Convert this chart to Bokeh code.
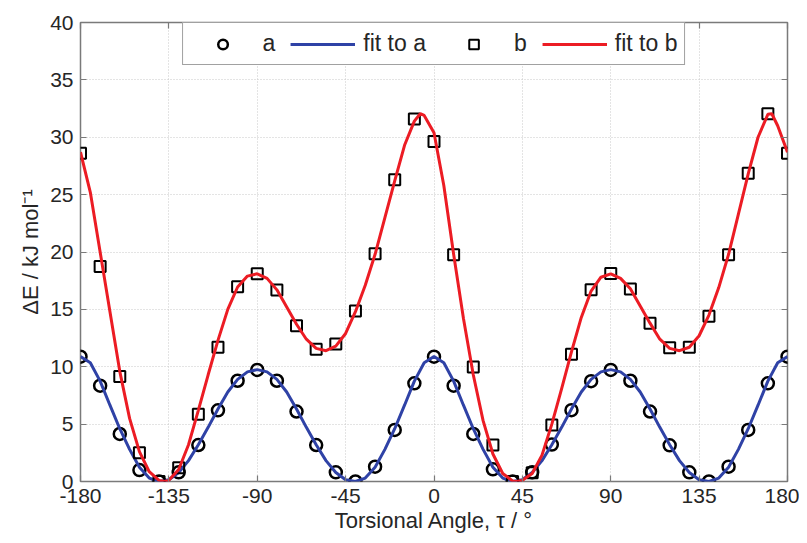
from bokeh.plotting import figure
from bokeh.models import Range1d, FixedTicker, LinearAxis, Legend, LegendItem
from bokeh.embed import file_html
from bokeh.resources import INLINE

# ---- data ----
x_ticks = [-180, -135, -90, -45, 0, 45, 90, 135, 180]
y_ticks = [0, 5, 10, 15, 20, 25, 30, 35, 40]

angles = [-180, -170, -160, -150, -140, -130, -120, -110, -100, -90, -80, -70, -60,
          -50, -40, -30, -20, -10, 0, 10, 20, 30, 40, 50, 60, 70, 80, 90, 100, 110,
          120, 130, 140, 150, 160, 170, 180]

a_vals = [10.88, 8.35, 4.14, 1.0, 0.0, 0.8, 3.18, 6.2, 8.78, 9.72, 8.78, 6.1, 3.18,
          0.8, 0.0, 1.29, 4.49, 8.56, 10.88, 8.35, 4.14, 1.06, 0.0, 0.8, 3.22, 6.22,
          8.74, 9.72, 8.78, 6.1, 3.15, 0.8, 0.0, 1.29, 4.49, 8.56, 10.88]

b_vals = [28.6, 18.73, 9.14, 2.5, 0.0, 1.2, 5.86, 11.7, 16.98, 18.1, 16.68, 13.58,
          11.52, 11.99, 14.86, 19.85, 26.29, 31.58, 29.62, 19.75, 9.98, 3.18, 0.0,
          0.77, 4.93, 11.09, 16.7, 18.12, 16.77, 13.79, 11.65, 11.7, 14.4, 19.75,
          26.87, 32.04, 28.6]

fit_a_x = [-180, -175, -170, -165, -160, -155, -150, -145, -140, -135, -130, -125,
           -120, -115, -110, -105, -100, -95, -90, -85, -80, -75, -70, -65, -60,
           -55, -50, -45, -40, -35, -30, -25, -20, -15, -10, -5, 0, 5, 10, 15, 20,
           25, 30, 35, 40, 45, 50, 55, 60, 65, 70, 75, 80, 85, 90, 95, 100, 105,
           110, 115, 120, 125, 130, 135, 140, 145, 150, 155, 160, 165, 170, 175, 180]
fit_a = [10.9, 10.35, 8.75, 6.65, 4.6, 2.8, 1.25, 0.3, 0.0, 0.15, 0.78, 1.82,
         3.2, 4.72, 6.32, 7.8, 8.9, 9.55, 9.75, 9.55, 8.9, 7.8, 6.32, 4.72, 3.2,
         1.82, 0.78, 0.15, 0.0, 0.3, 1.25, 2.8, 4.6, 6.65, 8.75, 10.35, 10.9, 10.35,
         8.75, 6.65, 4.6, 2.8, 1.25, 0.3, 0.0, 0.15, 0.78, 1.82, 3.2, 4.72, 6.32,
         7.8, 8.9, 9.55, 9.75, 9.55, 8.9, 7.8, 6.32, 4.72, 3.2, 1.82, 0.78, 0.15,
         0.0, 0.3, 1.25, 2.8, 4.6, 6.65, 8.75, 10.35, 10.9]

fit_b_x = [-180, -175, -170, -165, -160, -155, -150, -145, -140, -137, -135, -130,
           -125, -120, -115, -110, -105, -100, -95, -90, -85, -80, -75, -70, -65,
           -60, -55, -50, -45, -40, -35, -30, -25, -20, -15, -10, -7, -5, 0, 5, 10,
           15, 20, 25, 30, 35, 40, 42, 45, 50, 55, 60, 65, 70, 75, 80, 85, 90, 95,
           100, 105, 110, 115, 120, 125, 130, 135, 140, 145, 150, 155, 160, 165,
           170, 172, 175, 180]
fit_b = [28.7, 25.2, 20.0, 14.8, 9.6, 5.5, 2.6, 0.85, 0.1, 0.0, 0.1, 1.05,
         3.2, 6.2, 9.3, 12.3, 15.0, 16.95, 17.9, 18.1, 17.7, 16.7, 15.2, 13.7, 12.4,
         11.6, 11.4, 11.8, 12.9, 14.8, 17.1, 19.8, 23.0, 26.2, 29.3, 31.4, 32.05,
         31.9, 30.4, 25.8, 19.8, 14.2, 9.3, 5.3, 2.4, 0.7, 0.05, 0.0, 0.1, 0.7,
         2.3, 5.0, 8.1, 11.3, 14.3, 16.6, 17.8, 18.1, 17.7, 16.8, 15.3, 13.8, 12.4,
         11.6, 11.4, 11.7, 12.7, 14.5, 16.9, 19.8, 23.3, 26.8, 30.0, 32.0, 32.05,
         31.0, 28.7]

FONT = "Liberation Sans"
TXT = "#262626"
BOX = "#7a7a7a"

p = figure(width=799, height=535,
           x_range=Range1d(-180, 180), y_range=Range1d(0, 40),
           output_backend="svg", toolbar_location=None,
           min_border_left=80, min_border_right=12, min_border_top=22,
           min_border_bottom=53)

p.background_fill_color = "white"
p.border_fill_color = "white"
p.outline_line_color = BOX
p.outline_line_width = 1.5

xt = FixedTicker(ticks=x_ticks)
yt = FixedTicker(ticks=y_ticks)
p.xaxis.ticker = xt
p.yaxis.ticker = yt
p.xaxis.major_label_overrides = {t: str(t) for t in x_ticks}
p.yaxis.major_label_overrides = {t: str(t) for t in y_ticks}

for ax in (p.xaxis[0], p.yaxis[0]):
    ax.axis_line_color = None
    ax.major_tick_in = 6
    ax.major_tick_out = 0
    ax.minor_tick_line_color = None
    ax.major_tick_line_color = BOX
    ax.major_tick_line_width = 1.2
    ax.major_label_text_font = FONT
    ax.major_label_text_font_size = "21px"
    ax.major_label_text_color = TXT
    ax.axis_label_text_font = FONT
    ax.axis_label_text_font_size = "22px"
    ax.axis_label_text_font_style = "normal"
    ax.axis_label_text_color = TXT

p.xaxis.axis_label = "Torsional Angle, τ / °"
p.yaxis.axis_label = "ΔE / kJ mol⁻¹"
p.xaxis.major_label_standoff = 7
p.xaxis.axis_label_standoff = 2
p.yaxis.major_label_standoff = 7
p.yaxis.axis_label_standoff = 4

for loc, tk, ticks in (("right", yt, y_ticks), ("above", xt, x_ticks)):
    ax = LinearAxis(ticker=tk)
    ax.axis_line_color = None
    ax.major_tick_in = 6
    ax.major_tick_out = 0
    ax.minor_tick_line_color = None
    ax.major_tick_line_color = BOX
    ax.major_tick_line_width = 1.2
    ax.major_label_overrides = {t: "" for t in ticks}
    ax.major_label_text_font_size = "1px"
    ax.major_label_standoff = 0
    p.add_layout(ax, loc)

p.xgrid.ticker = xt
p.ygrid.ticker = yt
for g in (p.xgrid[0], p.ygrid[0]):
    g.grid_line_color = "#c8c8c8"
    g.grid_line_dash = "1 2"
    g.grid_line_width = 1

BLUE = "#2f42a6"
RED = "#ec1c24"

ra = p.scatter(angles, a_vals, marker="circle", size=12, fill_color=None,
               line_color="black", line_width=2.5)
rfa = p.line(fit_a_x, fit_a, line_color=BLUE, line_width=3)
rb = p.scatter(angles, b_vals, marker="square", size=11, fill_color=None,
               line_color="black", line_width=2)
rfb = p.line(fit_b_x, fit_b, line_color=RED, line_width=3)

legend = Legend(items=[LegendItem(label="a", renderers=[ra]),
                       LegendItem(label="fit to a", renderers=[rfa]),
                       LegendItem(label="b", renderers=[rb]),
                       LegendItem(label="fit to b", renderers=[rfb])],
                orientation="horizontal", location="top_center", margin=0,
                padding=7, spacing=15, glyph_width=65, glyph_height=24,
                label_standoff=8, label_width=10,
                label_text_font=FONT, label_text_font_size="23px",
                label_text_color=TXT,
                border_line_color="#444444", border_line_width=1.5,
                background_fill_color="white", background_fill_alpha=1.0)
p.add_layout(legend, "center")

open("out.html", "w").write(file_html(p, INLINE))
